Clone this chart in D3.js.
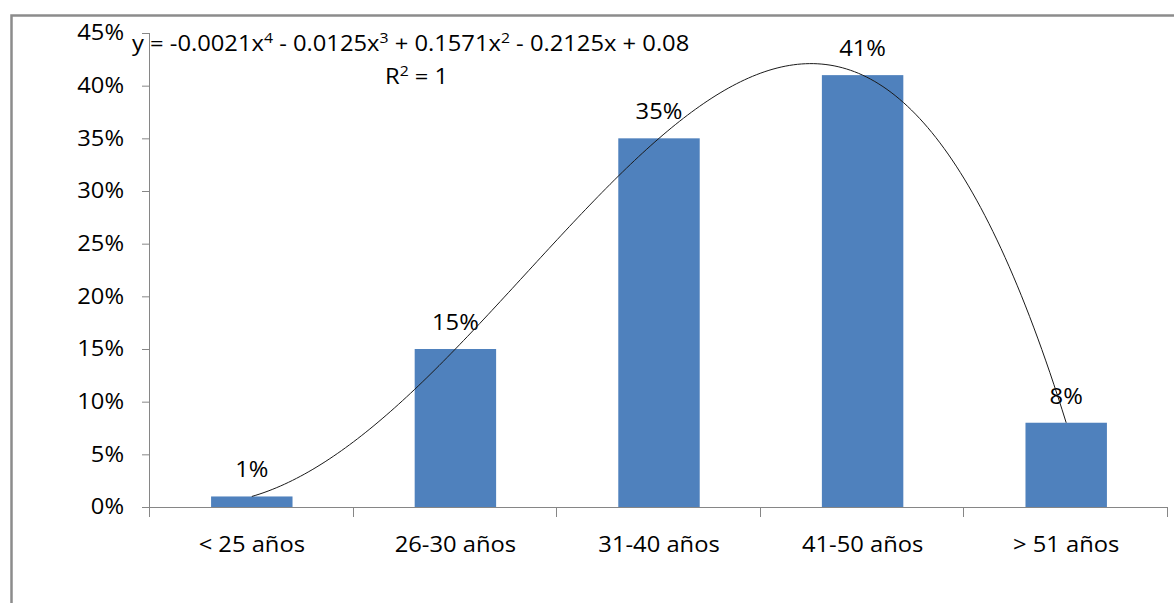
<!DOCTYPE html>
<html>
<head>
<meta charset="utf-8">
<script src="https://cdn.jsdelivr.net/npm/d3@7"></script>
<style>
  html, body { margin: 0; padding: 0; background: #fff; }
  svg { display: block; }
  text { font-family: "Open Sans", Lato, sans-serif; fill: #000; }
</style>
</head>
<body>
<svg id="chart" width="1174" height="603"></svg>
<script>
// ---- data ----
const categories = ["< 25 años", "26-30 años", "31-40 años", "41-50 años", "> 51 años"];
const values = [0.01, 0.15, 0.35, 0.41, 0.08];
const yTicks = [0, 0.05, 0.10, 0.15, 0.20, 0.25, 0.30, 0.35, 0.40, 0.45];
const equationParts = [
  {t: "y = -0.0021x"}, {t: "4", sup: true},
  {t: " - 0.0125x"}, {t: "3", sup: true},
  {t: " + 0.1571x"}, {t: "2", sup: true},
  {t: " - 0.2125x + 0.08"}
];
const r2Parts = [{t: "R"}, {t: "2", sup: true}, {t: " = 1"}];

// ---- layout ----
const svg = d3.select("#chart");
const mLeft = 150, mRight = 1168, mTop = 33, mBottom = 507;
const axisColor = "#868686";
const barColor = "#4F81BD";
const fontSize = 21;
const stretch = 1.13;
const fontFam = "'Open Sans', Lato, sans-serif";

// frame
svg.append("rect")
  .attr("x", 11.5).attr("y", 15.5)
  .attr("width", 1300).attr("height", 800)
  .attr("fill", "none").attr("stroke", "#8c8c8c").attr("stroke-width", 2.5);

const x = d3.scaleBand().domain(categories).range([mLeft, mRight])
  .paddingInner(0.6).paddingOuter(0.3);
const step = x.step();
const y = d3.scaleLinear().domain([0, 0.45]).range([mBottom, mTop]);

// y axis
const yAxis = d3.axisLeft(y).tickValues(yTicks).tickSize(8).tickPadding(18)
  .tickFormat(d3.format(".0%"));
const gy = svg.append("g").attr("transform", `translate(${mLeft},0)`).call(yAxis);
gy.select(".domain").attr("stroke", axisColor).attr("d", `M-0.5,${mTop}V${mBottom}`);
gy.selectAll(".tick line").attr("stroke", axisColor);
gy.selectAll(".tick text").attr("font-size", fontSize)
  .attr("font-family", fontFam).attr("fill", "#000");

// x axis
const xAxis = d3.axisBottom(x).tickSize(0).tickPadding(30);
const gx = svg.append("g").attr("transform", `translate(0,${mBottom})`).call(xAxis);
gx.select(".domain").attr("stroke", axisColor).attr("d", `M${mLeft},0.5H${mRight}`);
gx.selectAll(".tick text").attr("font-size", fontSize)
  .attr("font-family", fontFam).attr("fill", "#000");
// category boundary ticks
const boundaries = d3.range(categories.length + 1).map(i => mLeft + i * step);
gx.selectAll("line.bnd").data(boundaries).enter().append("line")
  .attr("class", "bnd")
  .attr("x1", d => Math.round(d) - 0.5).attr("x2", d => Math.round(d) - 0.5)
  .attr("y1", 0).attr("y2", 10)
  .attr("stroke", axisColor);

// bars
svg.append("g").selectAll("rect").data(values).enter().append("rect")
  .attr("x", (d, i) => x(categories[i]))
  .attr("width", x.bandwidth())
  .attr("y", d => y(d))
  .attr("height", d => y(0) - y(d))
  .attr("fill", barColor);

// data labels
svg.append("g").selectAll("text").data(values).enter().append("text")
  .attr("x", (d, i) => x(categories[i]) + x.bandwidth() / 2)
  .attr("y", d => y(d) - 19)
  .attr("text-anchor", "middle")
  .attr("font-size", fontSize)
  .text(d => d3.format(".0%")(d));

// polynomial trendline (4th order fit through the 5 points, R^2 = 1)
const xs = values.map((d, i) => i + 1);
function newtonCoefs(xv, yv) {
  const c = yv.slice();
  const n = xv.length;
  for (let j = 1; j < n; j++)
    for (let i = n - 1; i >= j; i--)
      c[i] = (c[i] - c[i - 1]) / (xv[i] - xv[i - j]);
  return c;
}
const coefs = newtonCoefs(xs, values);
function poly(t) {
  let r = coefs[coefs.length - 1];
  for (let i = coefs.length - 2; i >= 0; i--) r = r * (t - xs[i]) + coefs[i];
  return r;
}
const xLin = d3.scaleLinear().domain([1, categories.length])
  .range([x(categories[0]) + x.bandwidth() / 2, x(categories[categories.length - 1]) + x.bandwidth() / 2]);
const samples = d3.range(0, 201).map(k => 1 + k * (categories.length - 1) / 200);
svg.append("path")
  .datum(samples)
  .attr("fill", "none").attr("stroke", "#1a1a1a").attr("stroke-width", 1)
  .attr("d", d3.line().x(t => xLin(t)).y(t => y(poly(t))));

// equation text
function richText(parts, xPos, yPos) {
  const t = svg.append("text").attr("x", xPos).attr("y", yPos)
    .attr("font-size", fontSize);
  parts.forEach((p, i) => {
    const ts = t.append("tspan").text(p.t);
    if (p.sup) ts.attr("font-size", 14).attr("dy", -8);
    else if (i > 0 && parts[i - 1].sup) ts.attr("dy", 8);
  });
  return t;
}
richText(equationParts, 132, 51);
richText(r2Parts, 385, 84);

// widen glyphs slightly to match the reference's text widths
svg.selectAll("text").each(function() {
  const w = this.getComputedTextLength();
  if (w > 0) d3.select(this).attr("textLength", w * stretch).attr("lengthAdjust", "spacingAndGlyphs");
});
</script>
</body>
</html>
